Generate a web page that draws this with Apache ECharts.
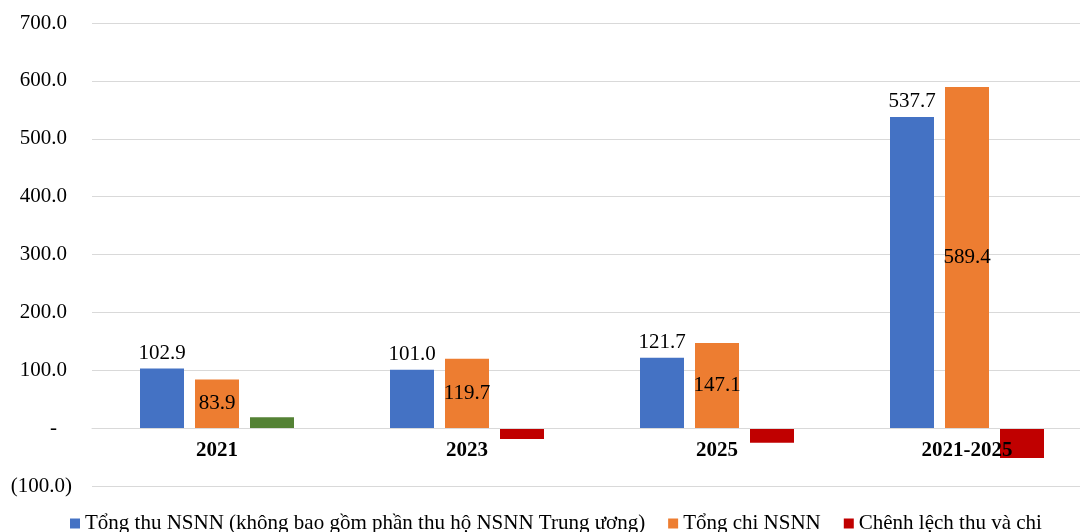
<!DOCTYPE html>
<html>
<head>
<meta charset="utf-8">
<script src="https://cdn.jsdelivr.net/npm/echarts@6/dist/echarts.min.js"></script>
<style>html,body{margin:0;padding:0;background:#fff;overflow:hidden;width:1080px;height:532px}#c{width:1092px;height:532px}</style>
</head>
<body>
<div id="c"></div>
<script>
const categories = ['2021', '2023', '2025', '2021-2025'];
const seriesNames = ['Tổng thu NSNN (không bao gồm phần thu hộ NSNN Trung ương)', 'Tổng chi NSNN', 'Chênh lệch thu và chi'];
const revenue = [102.9, 101.0, 121.7, 537.7];
const spending = [83.9, 119.7, 147.1, 589.4];
const balance = [19.0, -18.7, -25.4, -51.7];
const yTicks = [-100, 0, 100, 200, 300, 400, 500, 600, 700];

const FONT = '"Liberation Serif", "Times New Roman", serif';
const GRID_TOP = 23, GRID_H = 463;
const zeroOffset = GRID_H * (0 - yTicks[0]) / (yTicks[yTicks.length - 1] - yTicks[0]);
const chart = echarts.init(document.getElementById('c'), null, {renderer: 'canvas'});
chart.setOption({
  animation: false,
  textStyle: {fontFamily: FONT},
  grid: {left: 92, right: 0, top: GRID_TOP, height: GRID_H, containLabel: false},
  legend: {
    top: 508, left: 65,
    icon: 'rect', itemWidth: 10, itemHeight: 10, itemGap: 23,
    textStyle: {fontFamily: FONT, fontSize: 21, color: '#000'},
    data: seriesNames
  },
  xAxis: {
    type: 'category', data: categories,
    offset: -zeroOffset, z: 10,
    axisLine: {onZero: false, lineStyle: {color: '#d9d9d9'}},
    axisTick: {show: false},
    axisLabel: {fontFamily: FONT, fontSize: 21, fontWeight: 'bold', color: '#000', margin: 12}
  },
  yAxis: {
    type: 'value', min: yTicks[0], max: yTicks[yTicks.length - 1], interval: 100,
    axisLine: {show: false}, axisTick: {show: false},
    splitLine: {lineStyle: {color: '#d9d9d9'}},
    axisLabel: {
      margin: 20,
      formatter: function (v) {
        if (v === 0) return '{z|-}';
        if (v < 0) return '{n|(' + Math.abs(v).toFixed(1) + ')}';
        return '{p|' + v.toFixed(1) + '}';
      },
      rich: {
        p: {fontFamily: FONT, fontSize: 21, color: '#000', padding: [0, 5, 0, 0]},
        n: {fontFamily: FONT, fontSize: 21, color: '#000'},
        z: {fontFamily: FONT, fontSize: 21, color: '#000', padding: [0, 15, 0, 0]}
      }
    }
  },
  series: [
    {
      name: seriesNames[0], type: 'bar', data: revenue, barWidth: 44, barGap: '25%',
      itemStyle: {color: '#4472C4'},
      label: {show: true, position: 'top', fontFamily: FONT, fontSize: 21, color: '#000', distance: 5,
        formatter: p => p.value.toFixed(1)}
    },
    {
      name: seriesNames[1], type: 'bar', data: spending, barWidth: 44, barGap: '25%',
      itemStyle: {color: '#ED7D31'},
      label: {show: true, position: 'inside', fontFamily: FONT, fontSize: 21, color: '#000',
        formatter: p => p.value.toFixed(1)}
    },
    {
      name: seriesNames[2], type: 'bar', barWidth: 44, barGap: '25%',
      data: balance.map(v => ({value: v, itemStyle: {color: v >= 0 ? '#548235' : '#C00000'}})),
      itemStyle: {color: '#C00000'}
    }
  ]
});
</script>
</body>
</html>
